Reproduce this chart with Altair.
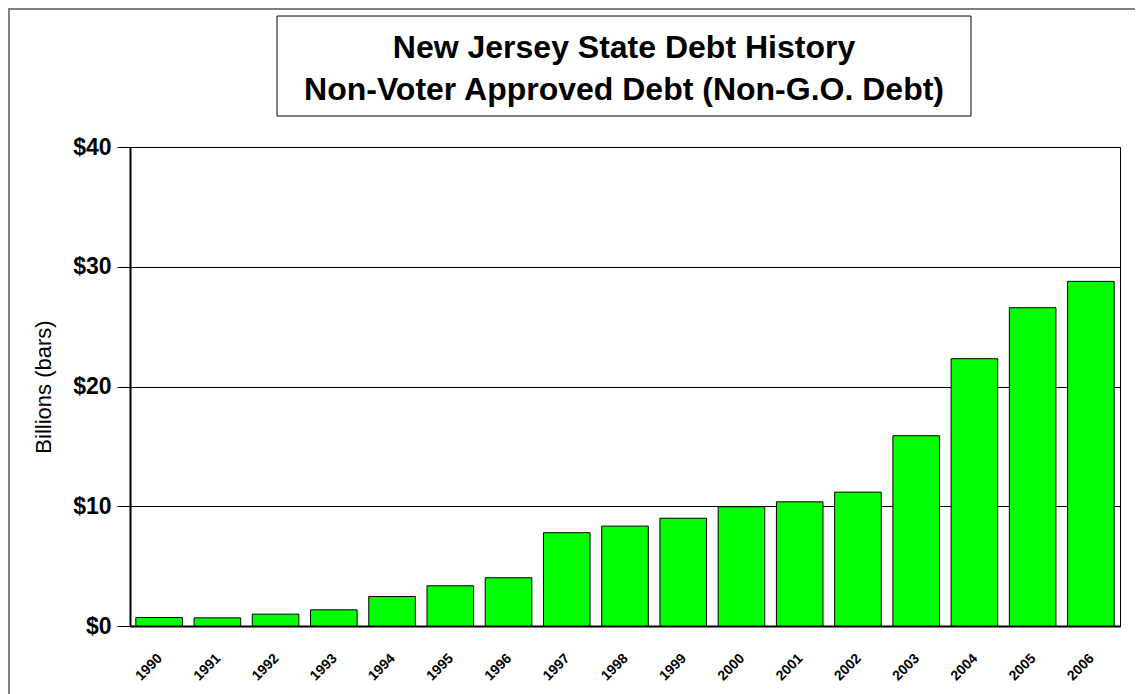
import altair as alt
import pandas as pd

years = ["1990", "1991", "1992", "1993", "1994", "1995", "1996", "1997", "1998",
         "1999", "2000", "2001", "2002", "2003", "2004", "2005", "2006"]
debt = [0.71, 0.68, 0.99, 1.35, 2.46, 3.36, 4.03, 7.79, 8.34,
        9.0, 9.96, 10.37, 11.18, 15.89, 22.32, 26.58, 28.78]
y_ticks = [0, 10, 20, 30, 40]
title_lines = ["New Jersey State Debt History", "Non-Voter Approved Debt (Non-G.O. Debt)"]

df = pd.DataFrame({"year": years, "debt": debt})

W, H = 990, 479
FONT = "Liberation Sans"

bars = alt.Chart(df).mark_bar(
    color="#00FF00", stroke="#000000", strokeWidth=1
).encode(
    x=alt.X("year:N", sort=years, title=None,
            scale=alt.Scale(paddingInner=0.2, paddingOuter=0.1),
            axis=alt.Axis(labelAngle=-45, labelAlign="right", labelBaseline="middle",
                          labelPadding=30, labelOffset=1, ticks=False,
                          labelFont=FONT, labelFontSize=14, labelFontWeight="bold",
                          labelColor="#000000", domainColor="#000000", domainWidth=2,
                          grid=False)),
    y=alt.Y("debt:Q", title="Billions (bars)",
            scale=alt.Scale(domain=[0, 40], nice=False),
            axis=alt.Axis(values=y_ticks, labelExpr="'$' + datum.value",
                          labelFont=FONT, labelFontSize=23, labelFontWeight="bold",
                          labelColor="#000000", labelPadding=6,
                          tickSize=13, tickColor="#000000", tickWidth=1,
                          domainColor="#000000", domainWidth=2,
                          grid=True, gridColor="#000000", gridWidth=1,
                          titleFont=FONT, titleFontSize=22, titleFontWeight="normal",
                          titleColor="#000000", titlePadding=17)),
)

# outer chart border (decorative frame); right and bottom edges fall outside the page
frame = alt.Chart(pd.DataFrame({"k": [0]})).mark_rect(
    fill="#FFFFFF", fillOpacity=0, stroke="#808080", strokeWidth=2
).encode(x=alt.value(-121), x2=alt.value(1300), y=alt.value(-138), y2=alt.value(800))

# title box
tbox = alt.Chart(pd.DataFrame({"k": [0]})).mark_rect(
    fill="#FFFFFF", stroke="#000000", strokeWidth=1
).encode(x=alt.value(147), x2=alt.value(841), y=alt.value(-131), y2=alt.value(-31))

tdf = pd.DataFrame({"line": title_lines, "ypix": [-89, -47]})
ttext = alt.Chart(tdf).mark_text(
    font=FONT, fontSize=32, fontWeight="bold", color="#000000",
    align="center", baseline="alphabetic"
).encode(text="line:N", x=alt.value(494), y=alt.Y("ypix:Q", scale=None, axis=None))

chart = alt.layer(frame, tbox, ttext, bars).properties(
    width=W, height=H,
    autosize=alt.AutoSizeParams(type="none"),
    padding={"left": 122, "top": 139, "right": 15, "bottom": 68},
    background="#FFFFFF",
).configure_view(stroke="#000000", strokeWidth=1)

chart.save("out.html", embed_options={"renderer": "svg", "actions": False})
